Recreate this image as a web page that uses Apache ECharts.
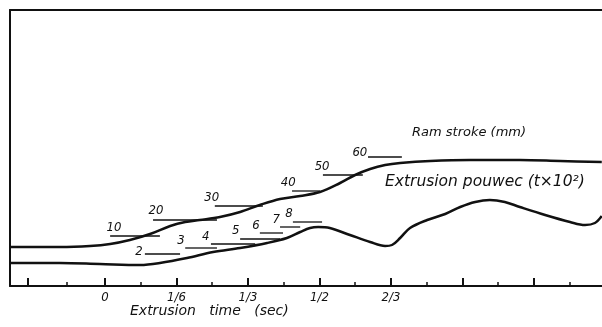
<!DOCTYPE html>
<html>
<head>
<meta charset="utf-8">
<script src="https://cdn.jsdelivr.net/npm/echarts@6/dist/echarts.min.js"></script>
<style>
  html, body { margin: 0; padding: 0; background: #fff; }
  #chart { width: 602px; height: 327px; }
</style>
</head>
<body>
<div id="chart"></div>
<script>
// time in seconds, levels in chart units above the base line (no scale printed)
const strokeTime = [-0.221, -0.105, -0.035, 0.012, 0.058, 0.105, 0.152, 0.187, 0.221, 0.268, 0.315, 0.361, 0.408, 0.455, 0.501, 0.548, 0.583, 0.618, 0.653, 0.688, 0.758, 0.851, 0.967, 1.061, 1.158];
const strokeLevel = [39, 39, 40, 42, 46, 52, 60, 64, 66, 69, 74, 81, 87, 90, 94, 103, 111, 117, 121, 123, 125, 126, 126, 125, 124];

const powerTime = [-0.221, -0.105, -0.012, 0.082, 0.128, 0.191, 0.252, 0.315, 0.378, 0.424, 0.455, 0.478, 0.497, 0.524, 0.571, 0.618, 0.653, 0.669, 0.688, 0.711, 0.751, 0.793, 0.828, 0.863, 0.897, 0.932, 0.967, 1.026, 1.084, 1.119, 1.142, 1.158];
const powerLevel = [23, 23, 22, 21, 23, 28, 34, 38, 43, 48, 54, 58, 59, 58, 51, 44, 40, 41, 48, 58, 66, 72, 79, 84, 86, 84, 79, 71, 64, 61, 63, 70];

// numbered marks with their leader lines
const strokeMarkText = ['10', '20', '30', '40', '50', '60'];
const strokeMarkT = [0.021, 0.119, 0.249, 0.427, 0.506, 0.594];
const strokeMarkH = [58, 75, 88, 103, 119, 133];
const strokeLeadFrom = [0.012, 0.112, 0.256, 0.436, 0.508, 0.613];
const strokeLeadTo = [0.128, 0.261, 0.368, 0.501, 0.601, 0.692];
const strokeLeadH = [50, 66, 80, 95, 111, 129];

const powerMarkText = ['2', '3', '4', '5', '6', '7', '8'];
const powerMarkT = [0.079, 0.177, 0.235, 0.305, 0.352, 0.399, 0.429];
const powerMarkH = [34, 45, 49, 55, 60, 66, 72];
const powerLeadFrom = [0.093, 0.187, 0.247, 0.315, 0.361, 0.408, 0.438];
const powerLeadTo = [0.175, 0.261, 0.35, 0.408, 0.415, 0.455, 0.506];
const powerLeadH = [32, 38, 42, 47, 53, 59, 64];

const tickLabelValues = [0, 1 / 6, 1 / 3, 1 / 2, 2 / 3];
const tickLabelText = ['0', '1/6', '1/3', '1/2', '2/3'];
const majorTicks = [-0.18, 0, 1 / 6, 1 / 3, 1 / 2, 2 / 3, 5 / 6, 1];
const minorTicks = [-0.09, 1 / 12, 3 / 12, 5 / 12, 7 / 12, 9 / 12, 11 / 12, 13 / 12];

const ink = '#111';
const font = "'DejaVu Sans Condensed', 'Liberation Sans', sans-serif";
const wideFont = "'DejaVu Sans', 'Liberation Sans', sans-serif";
const tMin = -0.2214;
const tMax = 1.1585;

function pairs(xs, ys) {
  return xs.map((x, i) => [x, ys[i]]);
}

function markData(t, h, from, to, lh) {
  return t.map((v, i) => [v, h[i], from[i], to[i], lh[i]]);
}

function markRenderer(texts) {
  return function (params, api) {
    const p = api.coord([api.value(0), api.value(1)]);
    const a = api.coord([api.value(2), api.value(4)]);
    const b = api.coord([api.value(3), api.value(4)]);
    return {
      type: 'group',
      children: [
        {
          type: 'line',
          shape: { x1: a[0], y1: a[1], x2: b[0], y2: b[1] },
          style: { stroke: ink, lineWidth: 1.3 }
        },
        {
          type: 'text',
          x: p[0],
          y: p[1],
          style: {
            text: texts[params.dataIndex],
            fill: ink,
            font: 'italic 13px ' + font,
            align: 'center',
            verticalAlign: 'middle'
          }
        }
      ]
    };
  };
}

const chart = echarts.init(document.getElementById('chart'));

const option = {
  animation: false,
  backgroundColor: '#fff',
  grid: {
    left: 10,
    right: 0,
    top: 10,
    bottom: 41,
    show: false
  },
  xAxis: [
    {
      type: 'value',
      min: tMin,
      max: tMax,
      axisLine: { show: true, onZero: false, lineStyle: { color: ink, width: 2 } },
      splitLine: { show: false },
      axisTick: {
        show: true,
        inside: true,
        length: 8,
        customValues: majorTicks,
        lineStyle: { color: ink, width: 2 }
      },
      axisLabel: {
        show: true,
        customValues: tickLabelValues,
        margin: 5,
        color: ink,
        fontSize: 13,
        fontStyle: 'italic',
        fontFamily: font,
        formatter: v => tickLabelText[Math.round(v * 6)]
      }
    },
    {
      type: 'value',
      min: tMin,
      max: tMax,
      position: 'bottom',
      axisLine: { show: false, onZero: false },
      splitLine: { show: false },
      axisTick: {
        show: true,
        inside: true,
        length: 4,
        customValues: minorTicks,
        lineStyle: { color: ink, width: 1.5 }
      },
      axisLabel: { show: false }
    },
    {
      // top frame line
      type: 'value',
      min: tMin,
      max: tMax,
      position: 'top',
      axisLine: { show: true, onZero: false, lineStyle: { color: ink, width: 2 } },
      axisTick: { show: false },
      axisLabel: { show: false },
      splitLine: { show: false }
    }
  ],
  yAxis: {
    type: 'value',
    min: 0,
    max: 276,
    position: 'left',
    axisLine: { show: true, onZero: false, lineStyle: { color: ink, width: 2 } },
    axisTick: { show: false },
    axisLabel: { show: false },
    splitLine: { show: false }
  },
  graphic: [
    {
      type: 'text',
      left: 412,
      top: 126,
      style: { text: 'Ram stroke (mm)', fill: ink, font: 'italic 13px ' + wideFont }
    },
    {
      type: 'text',
      left: 385,
      top: 174,
      style: { text: 'Extrusion pouwec (t×10²)', fill: ink, font: 'italic 15.5px ' + wideFont }
    },
    {
      type: 'text',
      left: 130,
      top: 304,
      style: { text: 'Extrusion   time   (sec)', fill: ink, font: 'italic 14px ' + wideFont }
    }
  ],
  series: [
    {
      name: 'Ram stroke (mm)',
      type: 'line',
      data: pairs(strokeTime, strokeLevel),
      smooth: 0.35,
      showSymbol: false,
      lineStyle: { color: ink, width: 2.5 }
    },
    {
      name: 'Extrusion pouwec (t×10²)',
      type: 'line',
      data: pairs(powerTime, powerLevel),
      smooth: 0.35,
      showSymbol: false,
      lineStyle: { color: ink, width: 2.5 }
    },
    {
      type: 'custom',
      renderItem: markRenderer(strokeMarkText),
      data: markData(strokeMarkT, strokeMarkH, strokeLeadFrom, strokeLeadTo, strokeLeadH),
      silent: true
    },
    {
      type: 'custom',
      renderItem: markRenderer(powerMarkText),
      data: markData(powerMarkT, powerMarkH, powerLeadFrom, powerLeadTo, powerLeadH),
      silent: true
    }
  ]
};

chart.setOption(option);
</script>
</body>
</html>
